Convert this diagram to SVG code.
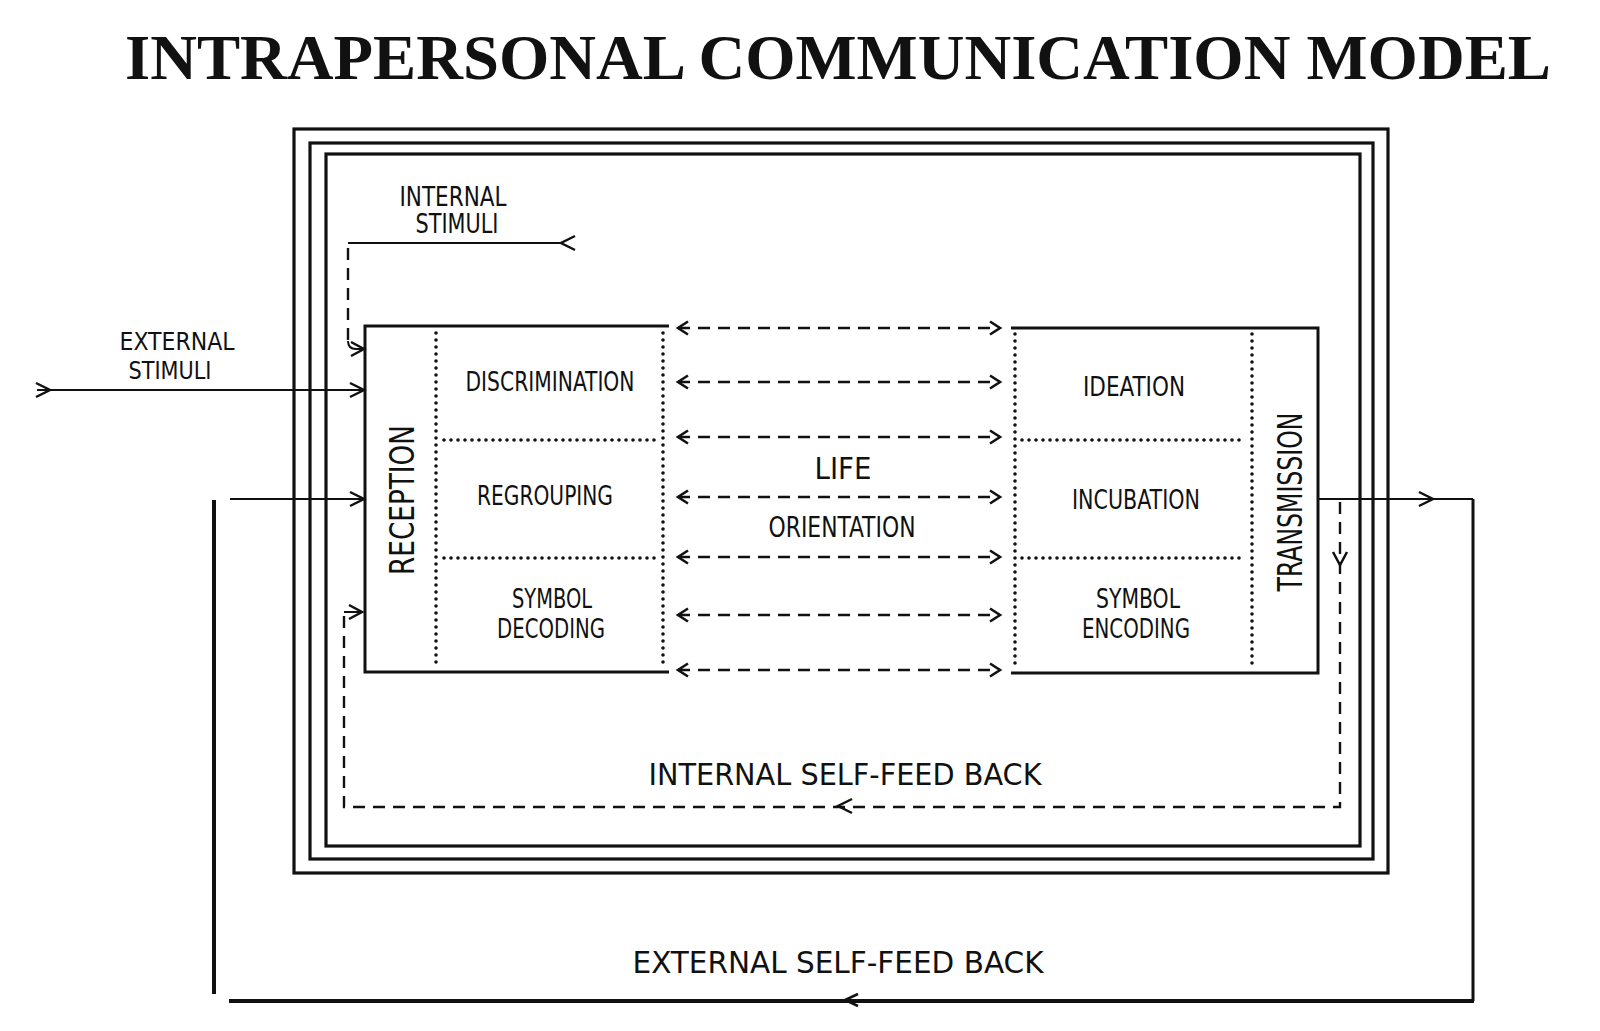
<svg xmlns="http://www.w3.org/2000/svg" width="1600" height="1031" viewBox="0 0 1600 1031">
<defs>
<style>
.frame{fill:none;stroke:#111;stroke-width:3.2}
.box{fill:none;stroke:#111;stroke-width:3}
.dot{fill:none;stroke:#111;stroke-width:3.6;stroke-linecap:round;stroke-dasharray:0 7}
.conn{fill:none;stroke:#111;stroke-width:2}
.thick{fill:none;stroke:#111;stroke-width:4}
.dash{fill:none;stroke:#111;stroke-width:2.4;stroke-dasharray:12 8}
.head{fill:none;stroke:#111;stroke-width:2.5;stroke-linejoin:miter}
.lbl{font-family:"Liberation Sans Narrow","DejaVu Sans Condensed","Liberation Sans",sans-serif;fill:#111;text-anchor:middle}
.title{font-family:"Liberation Serif","Times New Roman",serif;font-weight:bold;font-size:64px;fill:#111}
</style>
<marker id="chev" markerUnits="userSpaceOnUse" markerWidth="16" markerHeight="16" refX="11" refY="7" orient="auto-start-reverse" overflow="visible">
<path d="M1,0.5 L11,7 L1,13.5" fill="none" stroke="#111" stroke-width="2.6"/>
</marker>
</defs>
<rect width="1600" height="1031" fill="#fff"/>

<g id="title">
<text class="title" x="125" y="79" textLength="1426" lengthAdjust="spacingAndGlyphs">INTRAPERSONAL COMMUNICATION MODEL</text>
</g>

<g id="frames">
<rect class="frame" x="294" y="129" width="1094" height="744"/>
<rect class="frame" x="310" y="143" width="1063" height="716"/>
<rect class="frame" x="326" y="154" width="1034" height="692"/>
</g>

<g id="receiving-box">
<path class="box" d="M669,326 H365 V672 H669"/>
<path class="dot" d="M663,333 V667"/>
<path class="dot" d="M436,333 V667"/>
<path class="dot" d="M444,440 H657"/>
<path class="dot" d="M444,558 H657"/>
<text class="lbl" font-size="34" transform="translate(414,500) rotate(-90)" x="0" y="0" textLength="150" lengthAdjust="spacingAndGlyphs">RECEPTION</text>
<text class="lbl" font-size="26" x="550" y="391" textLength="169" lengthAdjust="spacingAndGlyphs">DISCRIMINATION</text>
<text class="lbl" font-size="26" x="545" y="505" textLength="136" lengthAdjust="spacingAndGlyphs">REGROUPING</text>
<text class="lbl" font-size="26" x="552" y="608" textLength="80" lengthAdjust="spacingAndGlyphs">SYMBOL</text>
<text class="lbl" font-size="26" x="551" y="638" textLength="108" lengthAdjust="spacingAndGlyphs">DECODING</text>
</g>

<g id="sending-box">
<path class="box" d="M1011,328 H1318 V673 H1011"/>
<path class="dot" d="M1015,334 V668"/>
<path class="dot" d="M1252,334 V668"/>
<path class="dot" d="M1022,440 H1245"/>
<path class="dot" d="M1022,558 H1245"/>
<text class="lbl" font-size="34" transform="translate(1302,502) rotate(-90)" x="0" y="0" textLength="179" lengthAdjust="spacingAndGlyphs">TRANSMISSION</text>
<text class="lbl" font-size="26" x="1134" y="396" textLength="102" lengthAdjust="spacingAndGlyphs">IDEATION</text>
<text class="lbl" font-size="26" x="1136" y="509" textLength="128" lengthAdjust="spacingAndGlyphs">INCUBATION</text>
<text class="lbl" font-size="26" x="1138" y="608" textLength="84" lengthAdjust="spacingAndGlyphs">SYMBOL</text>
<text class="lbl" font-size="26" x="1136" y="638" textLength="108" lengthAdjust="spacingAndGlyphs">ENCODING</text>
</g>

<g id="life-orientation">
<text class="lbl" font-size="30" x="843" y="479" textLength="57" lengthAdjust="spacingAndGlyphs">LIFE</text>
<text class="lbl" font-size="28" x="842" y="537" textLength="147" lengthAdjust="spacingAndGlyphs">ORIENTATION</text>
</g>

<g id="labels">
<text class="lbl" font-size="26" x="453" y="206" textLength="107" lengthAdjust="spacingAndGlyphs">INTERNAL</text>
<text class="lbl" font-size="26" x="457" y="233" textLength="83" lengthAdjust="spacingAndGlyphs">STIMULI</text>
<text class="lbl" font-size="24" x="177" y="350" textLength="115" lengthAdjust="spacingAndGlyphs">EXTERNAL</text>
<text class="lbl" font-size="24" x="170" y="379" textLength="83" lengthAdjust="spacingAndGlyphs">STIMULI</text>
<text class="lbl" font-size="30" x="845" y="785" textLength="393" lengthAdjust="spacingAndGlyphs">INTERNAL SELF-FEED BACK</text>
<text class="lbl" font-size="31" x="838" y="973" textLength="411" lengthAdjust="spacingAndGlyphs">EXTERNAL SELF-FEED BACK</text>
</g>

<g id="connectors">
<path class="dash" d="M678,328 H1000" marker-start="url(#chev)" marker-end="url(#chev)"/>
<path class="dash" d="M678,382 H1000" marker-start="url(#chev)" marker-end="url(#chev)"/>
<path class="dash" d="M678,437 H1000" marker-start="url(#chev)" marker-end="url(#chev)"/>
<path class="dash" d="M678,497 H1000" marker-start="url(#chev)" marker-end="url(#chev)"/>
<path class="dash" d="M678,557 H1000" marker-start="url(#chev)" marker-end="url(#chev)"/>
<path class="dash" d="M678,615 H1000" marker-start="url(#chev)" marker-end="url(#chev)"/>
<path class="dash" d="M678,670 H1000" marker-start="url(#chev)" marker-end="url(#chev)"/>

<path class="conn" d="M348,243 H561"/>
<path class="head" d="M575,236 L561,243 L575,250"/>
<path class="dash" d="M348,248 V342"/>
<path class="conn" d="M348,341 Q348,349 356,349 H364"/>
<path class="head" d="M351,342 L364,349 L351,356"/>

<path class="conn" d="M37,390 H364"/>
<path class="head" d="M36,383 L50,390 L36,397"/>
<path class="head" d="M350,383 L364,390 L350,397"/>

<path class="conn" d="M230,499 H364"/>
<path class="head" d="M350,492 L364,499 L350,506"/>

<path class="conn" d="M1318,499 H1473"/>
<path class="head" d="M1419,492 L1433,499 L1419,506"/>
<path class="box" d="M1473,499 V1001"/>
<path class="thick" d="M1474,1001 H229"/>
<path class="head" d="M858,994 L845,1000 L858,1006"/>
<path class="thick" d="M214,500 V994"/>

<path class="dash" d="M1340,502 V807 H344 V614"/>
<path class="head" d="M1333,552 L1340,565 L1347,552"/>
<path class="head" d="M852,799 L838,806 L852,813"/>
<path class="conn" d="M344,612 H362"/>
<path class="head" d="M349,605 L362,612 L349,619"/>
</g>
</svg>
